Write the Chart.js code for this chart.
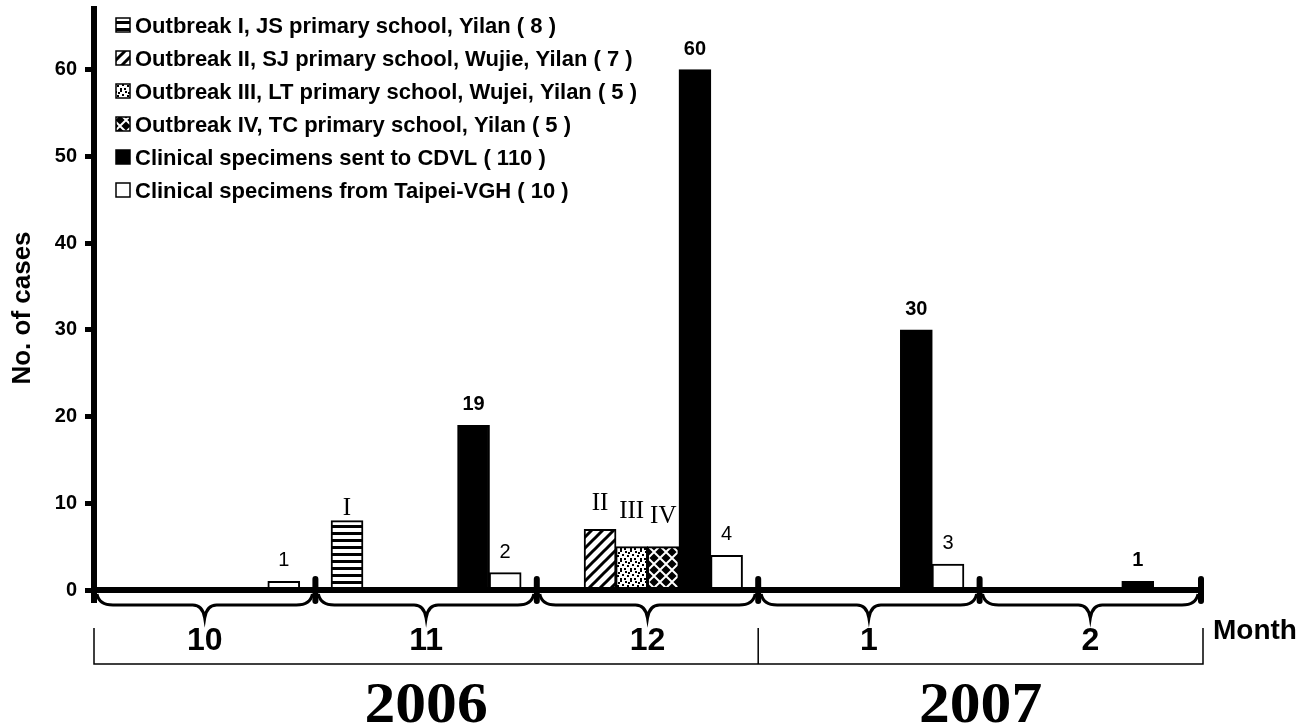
<!DOCTYPE html>
<html>
<head>
<meta charset="utf-8">
<script src="https://cdn.jsdelivr.net/npm/chart.js@4.4.0/dist/chart.umd.min.js"></script>
<style>
  html, body { margin: 0; padding: 0; background: #fff; }
  #c { display: block; }
</style>
</head>
<body>
<canvas id="c" width="1310" height="725"></canvas>
<script>
/* Cases by month, Oct 2006 – Feb 2007: four school outbreaks plus the two
   clinical specimen sources. Each month is split into 7 bar slots. */
const MONTHS = ["10", "11", "12", "1", "2"];
const YEARS = ["2006", "2007"];
const YEAR_FIRST_MONTH = [0, 3];     // month index where each year starts
const Y_TICKS = [0, 10, 20, 30, 40, 50, 60];
const SLOTS = 7;

const outbreakLabels = [
  "Outbreak I, JS primary school, Yilan ( 8 )",
  "Outbreak II, SJ primary school, Wujie, Yilan ( 7 )",
  "Outbreak III, LT primary school, Wujei, Yilan ( 5 )",
  "Outbreak IV, TC primary school, Yilan ( 5 )",
];
const outbreakRoman = ["I", "II", "III", "IV"];
const outbreakMonth = [1, 2, 2, 2];
const outbreakSlot = [1, 2, 3, 4];
const outbreakCases = [8, 7, 5, 5];

const cdvlLabel = "Clinical specimens sent to CDVL ( 110 )";
const cdvlSlot = 5;
const cdvlCases = [null, 19, 60, 30, 1];

const vghLabel = "Clinical specimens from Taipei-VGH ( 10 )";
const vghSlot = 6;
const vghCases = [1, 2, 4, 3, null];

const SANS = "Arial, 'Liberation Sans', Helvetica, sans-serif";
const SERIF = "'Liberation Serif', 'Times New Roman', Times, serif";

// ---- hatch fills ----
function tile(w, h, draw) {
  const c = document.createElement("canvas");
  c.width = w; c.height = h;
  const g = c.getContext("2d");
  g.fillStyle = "#fff"; g.fillRect(0, 0, w, h);
  g.fillStyle = "#000"; g.strokeStyle = "#000";
  draw(g);
  return document.createElement("canvas").getContext("2d").createPattern(c, "repeat");
}
const FILLS = [
  tile(8, 7, g => g.fillRect(0, 0, 8, 3)),                       // horizontal stripes
  tile(11, 11, g => {                                             // "/" diagonals
    g.lineWidth = 3;
    g.beginPath();
    g.moveTo(-2, 13); g.lineTo(13, -2);
    g.moveTo(-2, 2); g.lineTo(2, -2);
    g.moveTo(9, 13); g.lineTo(13, 9);
    g.stroke();
  }),
  tile(10, 10, g => {                                             // dots
    [[0, 0], [5, 1], [2, 4], [7, 5], [0, 8], [4, 8], [8, 2]].forEach(([x, y]) => g.fillRect(x, y, 2, 2));
  }),
  tile(12, 12, g => {                                             // diamonds
    [[6, 6], [0, 0], [12, 0], [0, 12], [12, 12]].forEach(([x, y]) => {
      g.beginPath();
      g.moveTo(x, y - 4.6); g.lineTo(x + 4.6, y); g.lineTo(x, y + 4.6); g.lineTo(x - 4.6, y);
      g.closePath(); g.fill();
    });
  }),
];

const xPos = (m, slot) => m + slot / SLOTS;
const toPoints = (vals, slot) => vals
  .map((v, m) => (v == null ? null : { x: xPos(m, slot), y: v }))
  .filter(Boolean);

const datasets = outbreakLabels.map((label, i) => ({
  label,
  data: [{ x: xPos(outbreakMonth[i], outbreakSlot[i]), y: outbreakCases[i] }],
  backgroundColor: FILLS[i],
  roman: outbreakRoman[i],
}));
datasets.push({ label: cdvlLabel, data: toPoints(cdvlCases, cdvlSlot), backgroundColor: "#000", valueFont: "bold" });
datasets.push({ label: vghLabel, data: toPoints(vghCases, vghSlot), backgroundColor: "#fff", valueFont: "normal" });
datasets.forEach(d => Object.assign(d, {
  borderColor: "#000", borderWidth: 2, barThickness: 32, grouped: false,
}));

// numeral gap above each outbreak bar, as drawn in the original
const ROMAN_GAP = { I: 6, II: 19, III: 29, IV: 24 };

const decor = {
  id: "decor",
  afterDatasetsDraw(chart) {
    const { ctx, chartArea: a, scales: { x } } = chart;
    ctx.save();

    // value labels + roman numerals
    chart.data.datasets.forEach((ds, di) => {
      chart.getDatasetMeta(di).data.forEach((el, k) => {
        ctx.fillStyle = "#000";
        ctx.textAlign = "center";
        ctx.textBaseline = "alphabetic";
        if (ds.roman) {
          ctx.font = `25px ${SERIF}`;
          ctx.fillText(ds.roman, el.x, el.y - ROMAN_GAP[ds.roman]);
        } else {
          ctx.font = `${ds.valueFont} 20px ${SANS}`;
          ctx.fillText(String(ds.data[k].y), el.x, el.y - 15);
        }
      });
    });

    // x axis
    ctx.strokeStyle = "#000";
    ctx.lineWidth = 6;
    ctx.lineCap = "butt";
    ctx.beginPath();
    ctx.moveTo(a.left, a.bottom); ctx.lineTo(a.right, a.bottom);
    ctx.moveTo(a.left, a.bottom); ctx.lineTo(a.left, a.bottom + 13);
    ctx.stroke();

    // month dividers
    ctx.lineCap = "round";
    for (let m = 1; m <= MONTHS.length; m++) {
      const px = x.getPixelForValue(m);
      ctx.beginPath();
      ctx.moveTo(px, a.bottom - 11); ctx.lineTo(px, a.bottom + 11);
      ctx.stroke();
    }

    // braces under each month
    ctx.lineWidth = 3;
    ctx.lineCap = "butt";
    const yt = a.bottom + 4, yh = a.bottom + 15, tip = a.bottom + 28;
    MONTHS.forEach((lab, m) => {
      const x0 = x.getPixelForValue(m) + 3, x1 = x.getPixelForValue(m + 1) - 3, xm = (x0 + x1) / 2;
      ctx.beginPath();
      ctx.moveTo(x0, yt);
      ctx.quadraticCurveTo(x0 + 2, yh, x0 + 16, yh);
      ctx.lineTo(xm - 12, yh);
      ctx.quadraticCurveTo(xm - 2, yh, xm, tip);
      ctx.quadraticCurveTo(xm + 2, yh, xm + 12, yh);
      ctx.lineTo(x1 - 16, yh);
      ctx.quadraticCurveTo(x1 - 2, yh, x1, yt);
      ctx.stroke();

      ctx.fillStyle = "#000";
      ctx.font = `bold 32px ${SANS}`;
      ctx.textAlign = "center";
      ctx.textBaseline = "alphabetic";
      ctx.fillText(lab, xm, a.bottom + 60);
    });

    // year bracket
    const yb = a.bottom + 74, yv = a.bottom + 38;
    const xl = x.getPixelForValue(0), xr = x.getPixelForValue(MONTHS.length) + 2;
    ctx.lineWidth = 1.5;
    ctx.beginPath();
    ctx.moveTo(xl, yv); ctx.lineTo(xl, yb); ctx.lineTo(xr, yb); ctx.lineTo(xr, yv);
    YEAR_FIRST_MONTH.slice(1).forEach(m => {
      const px = x.getPixelForValue(m);
      ctx.moveTo(px, yv); ctx.lineTo(px, yb);
    });
    ctx.stroke();

    YEARS.forEach((yr, i) => {
      const s = x.getPixelForValue(YEAR_FIRST_MONTH[i]);
      const e = i + 1 < YEARS.length ? x.getPixelForValue(YEAR_FIRST_MONTH[i + 1]) : xr;
      ctx.save();
      ctx.translate((s + e) / 2, 722);
      ctx.scale(1.1, 1);
      ctx.font = `bold 56px ${SERIF}`;
      ctx.textAlign = "center";
      ctx.fillText(yr, 0, 0);
      ctx.restore();
    });

    // axis names
    ctx.font = `bold 28px ${SANS}`;
    ctx.textAlign = "left";
    ctx.fillText("Month", 1213, 639);

    ctx.save();
    ctx.translate(23, 308);
    ctx.rotate(-Math.PI / 2);
    ctx.font = `bold 26px ${SANS}`;
    ctx.textAlign = "center";
    ctx.textBaseline = "middle";
    ctx.fillText("No. of cases", 0, 0);
    ctx.restore();

    // legend (inside the plot, top left)
    const lx = 116, box = 14;
    chart.data.datasets.forEach((ds, i) => {
      const cy = 25 + i * 33;
      ctx.fillStyle = ds.backgroundColor;
      ctx.fillRect(lx, cy - box / 2, box, box);
      ctx.lineWidth = 1.5;
      ctx.strokeRect(lx, cy - box / 2, box, box);
      ctx.fillStyle = "#000";
      ctx.font = `bold 22px ${SANS}`;
      ctx.textAlign = "left";
      ctx.textBaseline = "alphabetic";
      ctx.fillText(ds.label, 135, cy + 8);
    });

    ctx.restore();
  },
};

new Chart(document.getElementById("c"), {
  type: "bar",
  data: { datasets },
  options: {
    responsive: false,
    devicePixelRatio: 1,
    animation: false,
    layout: { padding: { left: 0, top: 9, right: 109, bottom: 135 } },
    plugins: { legend: { display: false }, tooltip: { enabled: false } },
    scales: {
      x: { type: "linear", min: 0, max: MONTHS.length, offset: false, display: false },
      y: {
        min: 0, max: 67,
        afterBuildTicks: s => { s.ticks = Y_TICKS.map(v => ({ value: v })); },
        afterFit: s => { s.width = 94; },
        // tiny lineHeight keeps the top label from pushing the plot area down
        ticks: { color: "#000", padding: 8, font: { family: SANS, size: 20, weight: "bold", lineHeight: 0.1 } },
        grid: { drawOnChartArea: false, drawTicks: true, tickLength: 9, tickWidth: 5, tickColor: "#000" },
        border: { display: true, width: 6, color: "#000" },
      },
    },
  },
  plugins: [decor],
});
</script>
</body>
</html>
